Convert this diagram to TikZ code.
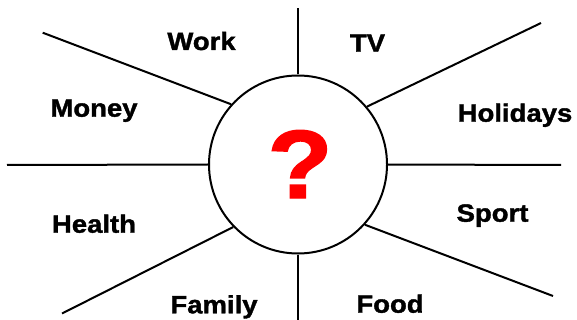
\documentclass[tikz,border=0pt]{standalone}
\usepackage{fontspec}
\newfontfamily\lblfont{Liberation Sans}[FakeStretch=1.1,BoldFeatures={FakeBold=1.5}]
\usetikzlibrary{positioning}
\tikzset{
  hub/.style   ={draw=black,line width=2pt,circle,minimum size=178pt,inner sep=0pt},
  spoke/.style ={draw=black,line width=2pt},
  lbl/.style   ={font=\lblfont\bfseries\fontsize{25}{30}\selectfont,anchor=base,inner sep=0pt},
  qmark/.style ={font=\lblfont\bfseries\fontsize{97}{100}\selectfont,text=red,anchor=base,inner sep=0pt},
}
\begin{document}
\begin{tikzpicture}[x=1pt,y=-1pt]
\useasboundingbox (0,0) rectangle (577,320);

\node[hub] (hub) at (298,164.5) {};
\node[qmark] (q) at (300,198) {?};

% free ends of the spokes
\coordinate (eN)  at (298,8);
\coordinate (eS)  at (298,324);
\coordinate (eW)  at (7,165);
\coordinate (eE)  at (561,165);
\coordinate (eNW) at (42.7,32.7);
\coordinate (eNE) at (541,23);
\coordinate (eSW) at (62,313.5);
\coordinate (eSE) at (553,296);

\draw[spoke] (hub.north) -- (eN);
\draw[spoke] (hub.south) -- (eS);
\draw[spoke] (hub.west)  -- (eW);
\draw[spoke] (hub.east)  -- (eE);
\draw[spoke] (hub.138.4) -- (eNW);
\draw[spoke] (hub.40.7)  -- (eNE);
\draw[spoke] (hub.224.3) -- (eSW);
\draw[spoke] (hub.318.2) -- (eSE);

\node[lbl] (work)     at (201.5,50)  {Work};
\node[lbl] (tv)       at (367.5,51.7) {TV};
\node[lbl] (money)    at (94,116.7)  {Money};
\node[lbl] (holidays) at (515,121.7) {Holidays};
\node[lbl] (health)   at (94,232.7)  {Health};
\node[lbl] (sport)    at (492.5,221.7) {Sport};
\node[lbl] (family)   at (214,313.3) {Family};
\node[lbl] (food)     at (390,312.7) {Food};
\end{tikzpicture}
\end{document}
